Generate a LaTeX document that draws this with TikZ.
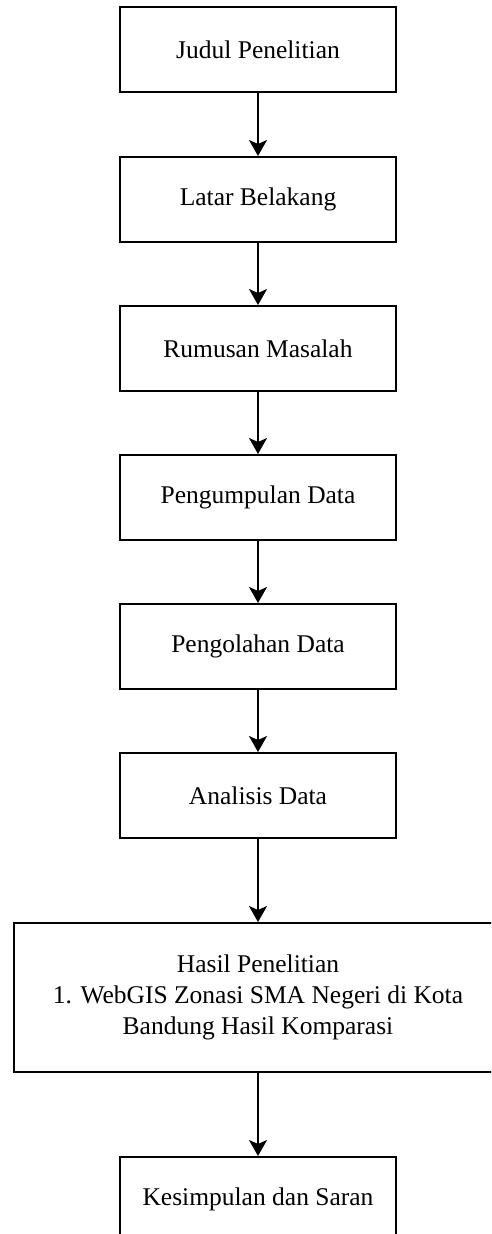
\documentclass[tikz,border=0pt]{standalone}
\usepackage{fontspec}
\setmainfont{Liberation Serif}
\usetikzlibrary{positioning,arrows.meta}
\tikzset{>=Stealth}

\begin{document}
\begin{tikzpicture}[
x=1pt, y=1pt,
node distance=62pt,
stepbox/.style={rectangle, draw=black, line width=2pt, minimum width=276pt, minimum height=85pt, font=\fontsize{25.5}{31}\selectfont, align=center},
widebox/.style={stepbox, minimum width=488pt, minimum height=149pt},
flow/.style={->, line width=2pt, >={Stealth[length=16pt,width=18pt,inset=4pt]}},
]
\useasboundingbox (0,0) rectangle (491,-1234);
\clip (0,0) rectangle (491,-1234);
%Nodes
\node[stepbox](Judul) at (258,-49.5){Judul Penelitian};
\node[stepbox](Latar)[below=63pt of Judul]{Latar Belakang};
\node[stepbox](Rumusan)[below=of Latar]{Rumusan Masalah};
\node[stepbox](Pengumpulan)[below=of Rumusan]{Pengumpulan Data};
\node[stepbox](Pengolahan)[below=of Pengumpulan]{Pengolahan Data};
\node[stepbox](Analisis)[below=of Pengolahan]{Analisis Data};
\node[widebox](Hasil)[below=83pt of Analisis]{Hasil Penelitian\\1. WebGIS Zonasi SMA Negeri di Kota\\Bandung Hasil Komparasi};
\node[stepbox](Kesimpulan)[below=83pt of Hasil]{Kesimpulan dan Saran};
%Arrows
\draw[flow] (Judul) -- (Latar);
\draw[flow] (Latar) -- (Rumusan);
\draw[flow] (Rumusan) -- (Pengumpulan);
\draw[flow] (Pengumpulan) -- (Pengolahan);
\draw[flow] (Pengolahan) -- (Analisis);
\draw[flow] (Analisis) -- (Hasil);
\draw[flow] (Hasil) -- (Kesimpulan);
\end{tikzpicture}
\end{document}
